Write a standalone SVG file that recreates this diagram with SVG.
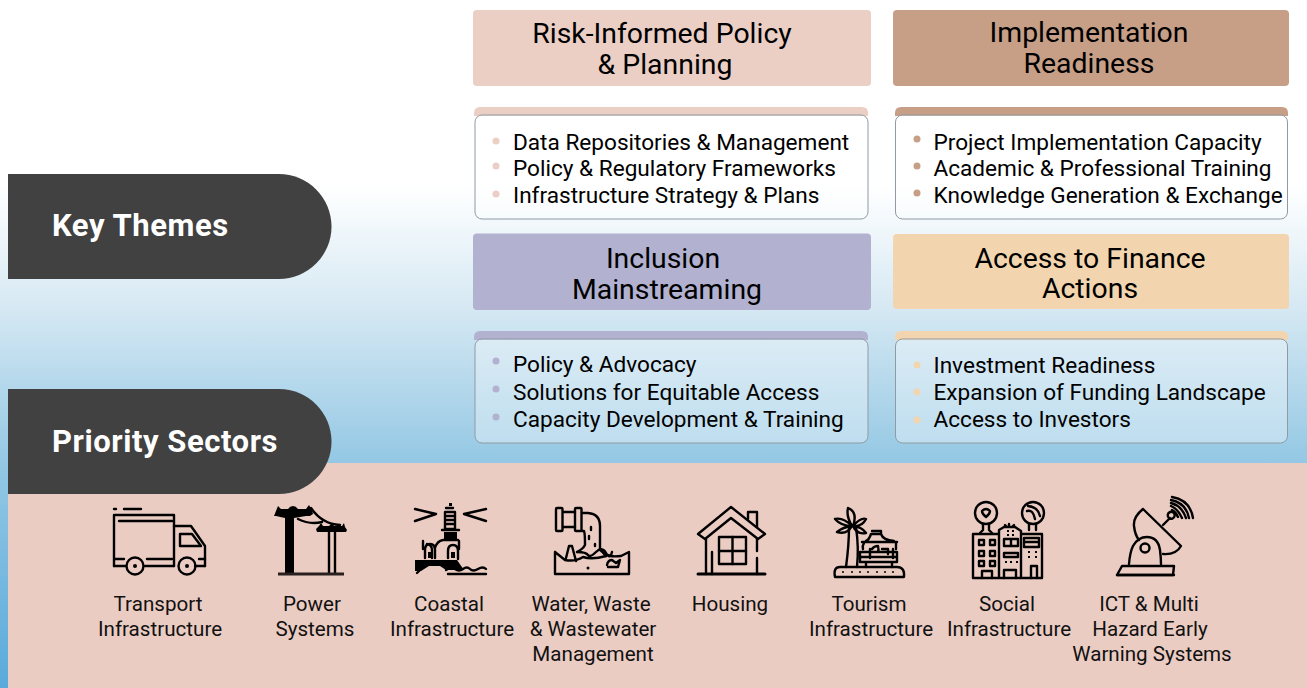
<svg xmlns="http://www.w3.org/2000/svg" width="1307" height="688" viewBox="0 0 1307 688">
<defs>
<linearGradient id="bg" x1="0" y1="0" x2="0" y2="1">
<stop offset="0" stop-color="#ffffff"/><stop offset="0.27" stop-color="#ffffff"/><stop offset="0.45" stop-color="#d5e8f3"/><stop offset="0.67" stop-color="#94c8e4"/><stop offset="1" stop-color="#5aaadb"/>
</linearGradient>
</defs>
<style>
text{font-family:Roboto,"Liberation Sans",sans-serif;fill:#000}
.h{font-size:28.400px;text-anchor:middle}
.b{font-size:22.600px}
.l{font-size:20.600px;text-anchor:middle;fill:#111}
.t{font-size:31px;font-weight:700;fill:#fff;letter-spacing:.55px}
.card{fill:#fff;fill-opacity:.35;stroke:#8f9aa3;stroke-width:1}
.ic{fill:none;stroke:#000;stroke-width:2.400;stroke-linejoin:round;stroke-linecap:round}
.f{fill:#000;stroke:none}
</style>
<rect width="1307" height="688" fill="url(#bg)"/>
<rect x="8" y="463" width="1299" height="225" fill="#ebccc3"/>
<g id="key-themes"><path d="M8 174H279a52.500 52.500 0 0 1 0 105H8Z" fill="#414141"/><text class="t" x="52" y="236">Key Themes</text></g>
<g id="priority-sectors"><path d="M8 389H279a52.500 52.500 0 0 1 0 105H8Z" fill="#414141"/><text class="t" x="52" y="452">Priority Sectors</text></g>

<g id="risk-header"><rect x="473" y="10" width="398" height="76" rx="4" fill="#ebcfc5"/><text class="h" x="662" y="43">Risk-Informed Policy</text><text class="h" x="665" y="74">&amp; Planning</text></g>
<g id="risk-card"><path d="M474 116V113q0-6 6-6H862q6 0 6 6V116Z" fill="#ebcfc5"/><rect class="card" x="475" y="115" width="393" height="104" rx="7"/>
<circle cx="496" cy="141" r="3.500" fill="#ebcfc5"/><circle cx="496" cy="166" r="3.500" fill="#ebcfc5"/><circle cx="496" cy="194" r="3.500" fill="#ebcfc5"/>
<text class="b" x="513" y="149.500">Data Repositories &amp; Management</text><text class="b" x="513" y="176">Policy &amp; Regulatory Frameworks</text><text class="b" x="513" y="203">Infrastructure Strategy &amp; Plans</text></g>

<g id="impl-header"><rect x="893" y="10" width="396" height="76" rx="4" fill="#c69f86"/><text class="h" x="1089" y="42">Implementation</text><text class="h" x="1089" y="73">Readiness</text></g>
<g id="impl-card"><path d="M895 116V113q0-6 6-6H1282q6 0 6 6V116Z" fill="#c69f86"/><rect class="card" x="895.500" y="115" width="392" height="104" rx="7"/>
<circle cx="917" cy="139" r="3.500" fill="#c69f86"/><circle cx="917" cy="166" r="3.500" fill="#c69f86"/><circle cx="917" cy="193" r="3.500" fill="#c69f86"/>
<text class="b" x="933.500" y="149.500">Project Implementation Capacity</text><text class="b" x="933.500" y="176">Academic &amp; Professional Training</text><text class="b" x="933.500" y="203">Knowledge Generation &amp; Exchange</text></g>

<g id="incl-header"><rect x="473" y="233.500" width="398" height="76.500" rx="4" fill="#b2b1cf"/><text class="h" x="663" y="268">Inclusion</text><text class="h" x="667" y="299">Mainstreaming</text></g>
<g id="incl-card"><path d="M474 340V337q0-6 6-6H862q6 0 6 6V340Z" fill="#b2b1cf"/><rect class="card" x="475" y="339" width="393" height="104" rx="7"/>
<circle cx="496" cy="361" r="3.500" fill="#b2b1cf"/><circle cx="496" cy="389" r="3.500" fill="#b2b1cf"/><circle cx="496" cy="417" r="3.500" fill="#b2b1cf"/>
<text class="b" x="513" y="372">Policy &amp; Advocacy</text><text class="b" x="513" y="400">Solutions for Equitable Access</text><text class="b" x="513" y="427">Capacity Development &amp; Training</text></g>

<g id="finance-header"><rect x="893" y="234" width="396" height="75" rx="4" fill="#f2d5ae"/><text class="h" x="1090" y="267.500">Access to Finance</text><text class="h" x="1090" y="298">Actions</text></g>
<g id="finance-card"><path d="M895 340V337q0-6 6-6H1282q6 0 6 6V340Z" fill="#f2d5ae"/><rect class="card" x="895.500" y="339" width="392" height="104" rx="7"/>
<circle cx="917" cy="365" r="3.500" fill="#f2d5ae"/><circle cx="917" cy="392" r="3.500" fill="#f2d5ae"/><circle cx="917" cy="420" r="3.500" fill="#f2d5ae"/>
<text class="b" x="933.500" y="372.500">Investment Readiness</text><text class="b" x="933.500" y="400">Expansion of Funding Landscape</text><text class="b" x="933.500" y="427">Access to Investors</text></g>

<g id="transport">
<g class="ic"><path d="M114 509h2M124 509h17"/><path d="M114 566V515H174V566"/><path d="M119 521H172"/><path d="M174 526H191L205 546V566"/><path d="M180 534H192L201 546H180Z"/><path d="M114 566H126M145 566H174M195 566H205"/><path d="M115 559H124M147 559H172M199 559H205"/><circle cx="135" cy="566" r="8.500"/><circle cx="187" cy="566" r="8.500"/></g><circle class="f" cx="135" cy="566" r="2"/><circle class="f" cx="187" cy="566" r="2"/>
<text class="l" x="158" y="611">Transport</text><text class="l" x="160" y="636">Infrastructure</text></g>

<g id="power">
<path class="f" d="M276 511l2-5 3 3h7q2-3 5-3t5 3h8l3-4 3 5 1 4-3 2h-4l-12 2v57h-9V518l-9-2h-2Z"/>
<path class="ic" d="M311 508Q322 524 340 525M298 519Q310 525 322 522" stroke-width="1.600"/>
<path class="f" d="M319 526l2-3 2 3h6l3-3 2 3h8l2-3 1 4 2 3-1 2H317l-1-3Z"/>
<path class="ic" d="M329 532V573M335 532V573" stroke-width="2"/>
<path d="M278 574H344" stroke="#2a2020" stroke-width="2.800" fill="none"/>
<text class="l" x="312" y="611">Power</text><text class="l" x="315" y="636">Systems</text></g>

<g id="coastal">
<g class="ic" stroke-width="2"><path d="M415 509L436 514L415 521M486 509L464 514L486 521"/><path d="M446 508h7M445 512h10V529h-10ZM447 516h6M447 520h6M447 524h6"/><path d="M442 530h17"/><path d="M423 549V541M427 544q5 1 5 6v8M459 541V549"/><path d="M425 558V550q0-6 5-6t5 6v8M448 558V551q0-6 5-6t5 6v8"/><path d="M435 548Q437 541 443 540H458"/></g>
<rect class="f" x="444" y="532" width="13" height="7"/><rect class="f" x="428" y="552" width="3" height="6"/><rect class="f" x="451" y="552" width="4" height="6"/>
<path class="f" d="M415 560H457L464 570H446L440 566H429L421 571H415ZM449 503h3v3h-3Z"/>
<path class="ic" d="M446 570q5-4 9-1t8 0q4-3 7 0t8 0t8 0M448 574h38M417 573l9-9"/>
<text class="l" x="449" y="611">Coastal</text><text class="l" x="452" y="636">Infrastructure</text></g>

<g id="water">
<g class="ic" stroke-width="2.600"><rect x="556" y="508" width="6.500" height="23" rx="1"/><rect x="575" y="508" width="6.500" height="23" rx="1"/><path d="M563 512H575M563 527H575"/><path d="M582 513H588Q600 514 600 526V550q3 2 6 6M582 531H584Q585 533 585 545Q583 549 577 552"/><path d="M577 552Q586 552 588 555T596 552T606 553T612 552"/>
<path d="M555 552V574H629V552L621 556Q611 557 608 555M555 552L565 560Q575 562 583 557Q592 560 606 556"/><path d="M566 558L569 546H572L576 561"/><path d="M607 565Q608 560 612 560L616 563L620 560L618 567H608"/></g><circle class="f" cx="588" cy="568" r="1.500"/><path class="ic" d="M591 527v3M589 536v3M595 544v2"/>
<text class="l" x="591" y="611">Water, Waste</text><text class="l" x="593" y="636">&amp; Wastewater</text><text class="l" x="593" y="661">Management</text></g>

<g id="housing">
<g class="ic" stroke-width="2.500"><path d="M698 534L731 507L765 534L758 539L731 518L705 539Z"/><path d="M748 519V512H757V527"/><path d="M706 539V574M757 539V551M757 558V574"/><rect x="719" y="537" width="27" height="27"/><path d="M732.500 537V564M719 551H746"/><path d="M712 552V574"/><path d="M698 574H765" stroke-width="3"/></g>
<text class="l" x="730" y="611">Housing</text></g>

<g id="tourism">
<g class="ic" stroke-width="2.300"><path d="M846 567Q849 545 849 527"/><path d="M856 527Q859 548 857 567"/><path d="M852 526Q846 516 848 508Q858 512 853 526ZM852 526Q843 517 835 519Q841 526 852 526ZM853 526Q861 517 866 519Q862 527 853 526ZM852 526Q843 527 837 532Q847 535 852 526ZM853 526Q862 527 866 533Q857 535 853 526Z"/>
<path d="M866 541Q869 540 871 534H881Q883 540 894 541M872 531H881V534M862 542H897M864 543Q862 546 863 549M896 543V549M870 549V558M893 549V558M860 552H897V562H860ZM860 557H897M866 562V567M892 562V567M872 549q2-3 6-3q1 4 0 6M882 549h6v5"/>
<path d="M840 567H897Q905 567 904 577H835Q833 567 840 567Z"/></g>
<g class="f"><circle cx="843" cy="572" r="1"/><circle cx="852" cy="572" r="1"/><circle cx="860" cy="572" r="1"/><circle cx="868" cy="572" r="1"/><circle cx="877" cy="572" r="1"/><circle cx="885" cy="572" r="1"/><circle cx="893" cy="572" r="1"/></g>
<text class="l" x="869" y="611">Tourism</text><text class="l" x="871" y="636">Infrastructure</text></g>

<g id="social">
<g class="ic" stroke-width="2.400"><circle cx="986" cy="513" r="11"/><circle cx="1033" cy="513" r="11"/><path d="M983 524V530L980 533M989 524V530L992 533M1029 524V530M1036 524V530"/><path d="M982 511Q986 507 990 511Q990 514 986 517Q982 514 982 511ZM1027 511Q1033 509 1035 519M1028 506Q1038 507 1040 516"/>
<path d="M973 578V534H999V578M999 578V530L1004 527H1015L1021 531V578H999M1021 534H1042V578H1021M973 578H1042M1009 524V527M1005 525l2 2M1014 525l-2 2"/>
<path d="M982 578V571H992V578M1004 578V570H1016V578M1031 578V566H1037V578M1024 538H1039V547H1024ZM1024 542H1039M1004 539H1018V546H1004ZM1011 539V546M1004 553H1018V557H1004Z"/>
<rect x="979" y="540" width="5" height="5"/><rect x="990" y="540" width="5" height="5"/><rect x="979" y="551" width="5" height="5"/><rect x="990" y="551" width="5" height="5"/><rect x="979" y="561" width="5" height="5"/><rect x="990" y="561" width="5" height="5"/></g>
<g class="f"><rect x="1007" y="530" width="2" height="2"/><rect x="1012" y="530" width="2" height="2"/><rect x="1007" y="534" width="2" height="2"/><rect x="1012" y="534" width="2" height="2"/><rect x="1005" y="561" width="2" height="2"/><rect x="1010" y="561" width="2" height="2"/><rect x="1016" y="561" width="2" height="2"/><rect x="1028" y="551" width="2" height="2"/><rect x="1035" y="551" width="2" height="2"/><rect x="1028" y="556" width="2" height="2"/><rect x="1035" y="556" width="2" height="2"/></g>
<text class="l" x="1007" y="611">Social</text><text class="l" x="1009" y="636">Infrastructure</text></g>

<g id="ict">
<g class="ic" stroke-width="1.900"><path d="M1143 509L1181 546Q1176 555 1163 554M1143 509Q1133 517 1134 526Q1135 535 1139 540"/><path d="M1163 525L1170 518M1169 518a3.500 3.500 0 1 0 1-6 3.500 3.500 0 0 0-1 6Z"/><path d="M1172 497Q1190 500 1193 518M1171 500Q1186 503 1189 518M1171 503Q1182 506 1186 518M1171 506Q1178 509 1182 518M1172 510Q1176 512 1178 517"/><path d="M1129 564Q1130 552 1133 546Q1138 537 1147 537Q1158 537 1160 550Q1161 558 1161 564"/><circle cx="1145" cy="548" r="4.500"/><path d="M1122 566H1174L1173 575H1117Z"/><path d="M1117 575H1174"/></g>
<text class="l" x="1149" y="611">ICT &amp; Multi</text><text class="l" x="1150" y="636">Hazard Early</text><text class="l" x="1152" y="661">Warning Systems</text></g>

<g id="connectors"></g>
</svg>
